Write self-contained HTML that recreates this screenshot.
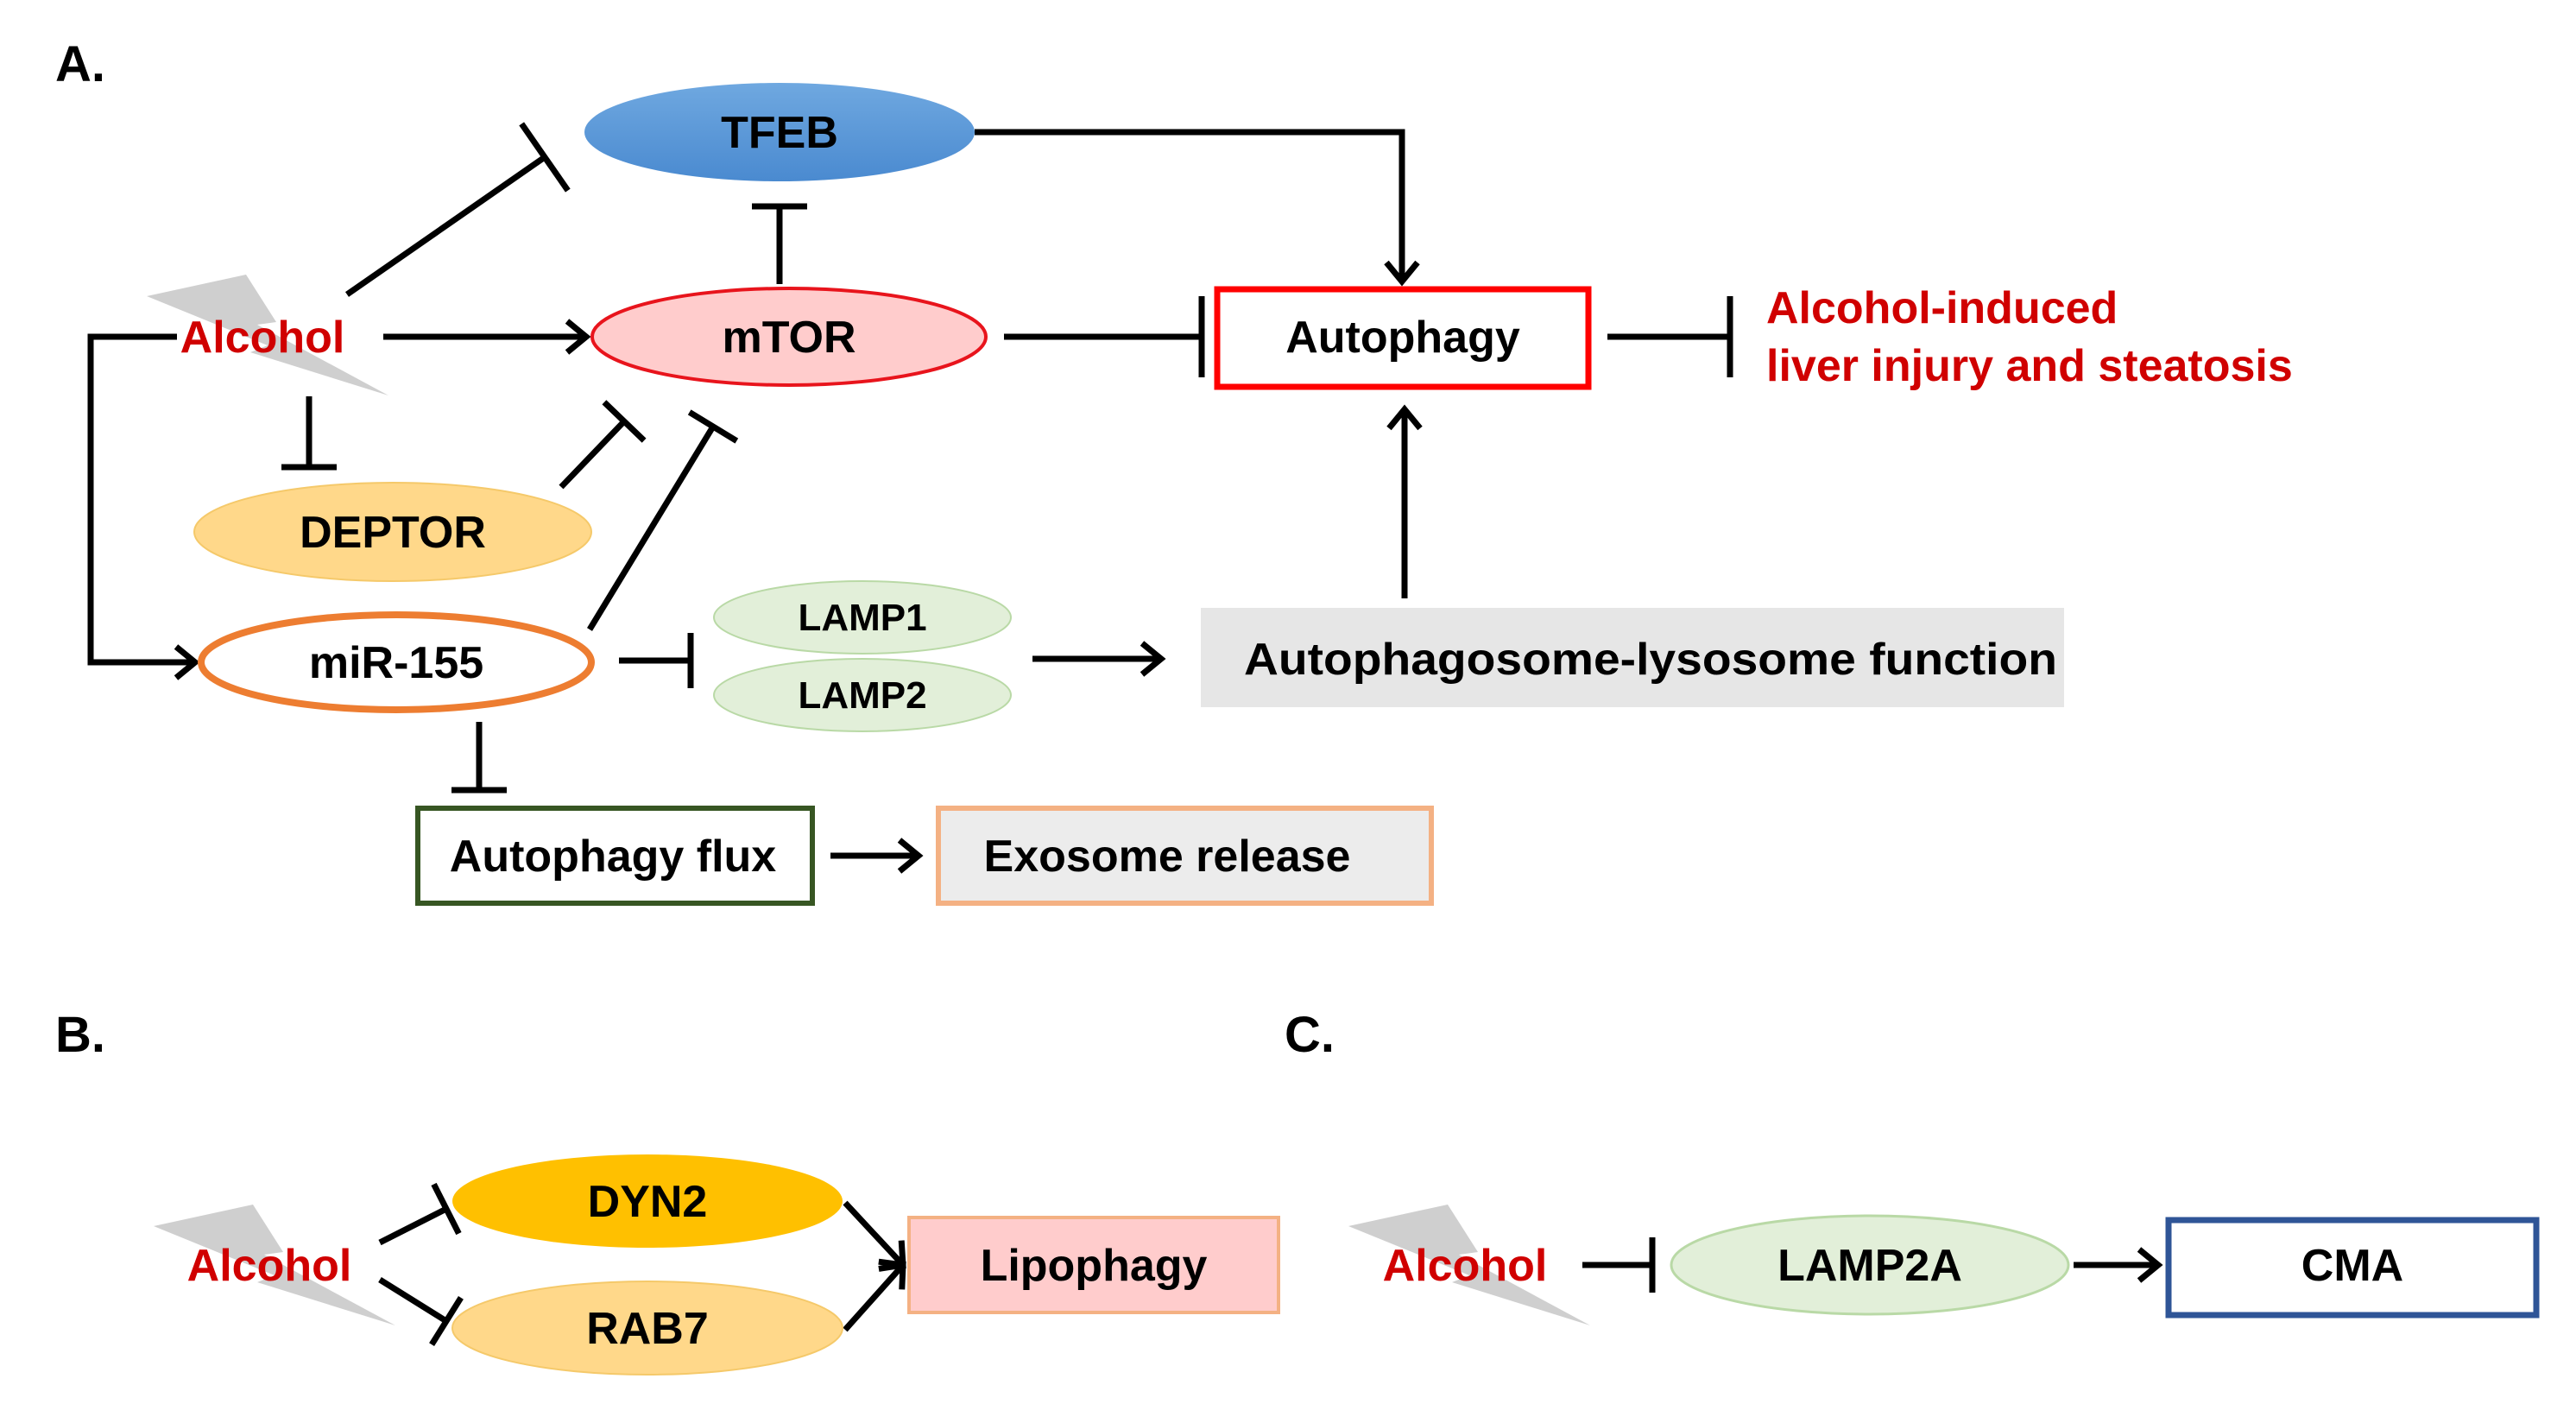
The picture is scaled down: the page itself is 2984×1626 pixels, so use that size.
<!DOCTYPE html>
<html><head><meta charset="utf-8"><style>html,body{margin:0;padding:0;background:#fff}svg{display:block}</style></head>
<body>
<svg xmlns="http://www.w3.org/2000/svg" width="2984" height="1626" viewBox="0 0 2984 1626" font-family="'Liberation Sans', Arial, sans-serif" font-weight="bold">
<defs>
<marker id="a" markerUnits="userSpaceOnUse" markerWidth="50" markerHeight="50" refX="38" refY="22" orient="auto"><path d="M16,4 L38,22 L16,40" fill="none" stroke="#000" stroke-width="7"/></marker>
<marker id="t" markerUnits="userSpaceOnUse" markerWidth="20" markerHeight="110" refX="10" refY="55" orient="auto"><path d="M10,8 L10,102" stroke="#000" stroke-width="7"/></marker>
<marker id="ts" markerUnits="userSpaceOnUse" markerWidth="20" markerHeight="80" refX="10" refY="40" orient="auto"><path d="M10,8 L10,72" stroke="#000" stroke-width="7"/></marker>
<linearGradient id="tf" x1="0" y1="0" x2="0" y2="1"><stop offset="0" stop-color="#6fa8e0"/><stop offset="1" stop-color="#4a8ad0"/></linearGradient>
<g id="bolt"><polygon points="0,25 115,0 150,55 128,58 280,140 120,90 140,82" fill="#cfcfcf"/></g>
</defs>
<g stroke="#000" stroke-width="7" fill="none">
<polyline points="1129,153 1624,153 1624,326" marker-end="url(#a)"/>
<line x1="402" y1="341" x2="631" y2="182" marker-end="url(#t)"/>
<line x1="903" y1="329" x2="903" y2="239" marker-end="url(#ts)"/>
<line x1="444" y1="390" x2="679" y2="390" marker-end="url(#a)"/>
<line x1="1163" y1="390" x2="1392" y2="390" marker-end="url(#t)"/>
<line x1="1862" y1="390" x2="2004" y2="390" marker-end="url(#t)"/>
<polyline points="205,390 105,390 105,767 226,767" marker-end="url(#a)"/>
<line x1="358" y1="459" x2="358" y2="541" marker-end="url(#ts)"/>
<line x1="650" y1="564" x2="723" y2="488" marker-end="url(#ts)"/>
<line x1="683" y1="729" x2="826" y2="494" marker-end="url(#ts)"/>
<line x1="717" y1="765" x2="800" y2="765" marker-end="url(#ts)"/>
<line x1="1196" y1="763" x2="1345" y2="763" marker-end="url(#a)"/>
<line x1="1627" y1="693" x2="1627" y2="474" marker-end="url(#a)"/>
<line x1="555" y1="836" x2="555" y2="915" marker-end="url(#ts)"/>
<line x1="962" y1="991" x2="1064" y2="991" marker-end="url(#a)"/>
<line x1="440" y1="1439" x2="517" y2="1400" marker-end="url(#ts)"/>
<line x1="440" y1="1482" x2="517" y2="1530" marker-end="url(#ts)"/>
<line x1="979" y1="1393" x2="1046" y2="1465" marker-end="url(#a)"/>
<line x1="979" y1="1540" x2="1046" y2="1465" marker-end="url(#a)"/>
<line x1="1833" y1="1465" x2="1914" y2="1465" marker-end="url(#ts)"/>
<line x1="2402" y1="1465" x2="2500" y2="1465" marker-end="url(#a)"/>
</g>
<use href="#bolt" transform="translate(170,318)"/>
<use href="#bolt" transform="translate(178,1395)"/>
<use href="#bolt" transform="translate(1562,1395)"/>
<ellipse cx="903" cy="153" rx="226" ry="57" fill="url(#tf)"/>
<ellipse cx="914" cy="390" rx="228" ry="56" fill="#ffcccc" stroke="#e8141c" stroke-width="4"/>
<ellipse cx="455" cy="616" rx="230" ry="57" fill="#ffd88a" stroke="#f5c96a" stroke-width="2"/>
<ellipse cx="459" cy="767" rx="226" ry="55" fill="#fff" stroke="#ed7d31" stroke-width="8"/>
<ellipse cx="999" cy="715" rx="172" ry="42" fill="#e2efd9" stroke="#b9d9a6" stroke-width="2"/>
<ellipse cx="999" cy="805" rx="172" ry="42" fill="#e2efd9" stroke="#b9d9a6" stroke-width="2"/>
<rect x="1410" y="335" width="430" height="113" fill="#fff" stroke="#ff0000" stroke-width="7"/>
<rect x="1391" y="704" width="1000" height="115" fill="#e6e6e6"/>
<rect x="484" y="936" width="457" height="110" fill="#fff" stroke="#375623" stroke-width="6"/>
<rect x="1087" y="936" width="571" height="110" fill="#ececec" stroke="#f4b183" stroke-width="6"/>
<ellipse cx="750" cy="1391" rx="226" ry="54" fill="#ffc000"/>
<ellipse cx="750" cy="1538" rx="226" ry="54" fill="#ffd88a" stroke="#f5c96a" stroke-width="2"/>
<rect x="1053" y="1410" width="428" height="110" fill="#ffcccc" stroke="#f4b183" stroke-width="4"/>
<ellipse cx="2166" cy="1465" rx="230" ry="57" fill="#e2efd9" stroke="#b9d9a6" stroke-width="3"/>
<rect x="2512" y="1413" width="426" height="110" fill="#fff" stroke="#2f5597" stroke-width="7"/>
<g font-size="52" fill="#000" text-anchor="middle">
<text x="903" y="171">TFEB</text>
<text x="914" y="408">mTOR</text>
<text x="455" y="634">DEPTOR</text>
<text x="459" y="785">miR-155</text>
<text x="999" y="730" font-size="44">LAMP1</text>
<text x="999" y="820" font-size="44">LAMP2</text>
<text x="1625" y="408">Autophagy</text>
<text x="1912" y="781" textLength="942" lengthAdjust="spacingAndGlyphs">Autophagosome-lysosome function</text>
<text x="710" y="1009">Autophagy flux</text>
<text x="1352" y="1009">Exosome release</text>
<text x="750" y="1409">DYN2</text>
<text x="750" y="1556">RAB7</text>
<text x="1267" y="1483">Lipophagy</text>
<text x="2166" y="1483">LAMP2A</text>
<text x="2725" y="1483">CMA</text>
</g>
<g font-size="52" fill="#d00000">
<text x="304" y="408" text-anchor="middle">Alcohol</text>
<text x="312" y="1483" text-anchor="middle">Alcohol</text>
<text x="1697" y="1483" text-anchor="middle">Alcohol</text>
<text x="2046" y="374">Alcohol-induced</text>
<text x="2046" y="441">liver injury and steatosis</text>
</g>
<g font-size="58" fill="#000">
<text x="64" y="94">A.</text>
<text x="64" y="1218">B.</text>
<text x="1488" y="1218">C.</text>
</g>
</svg>
</body></html>
